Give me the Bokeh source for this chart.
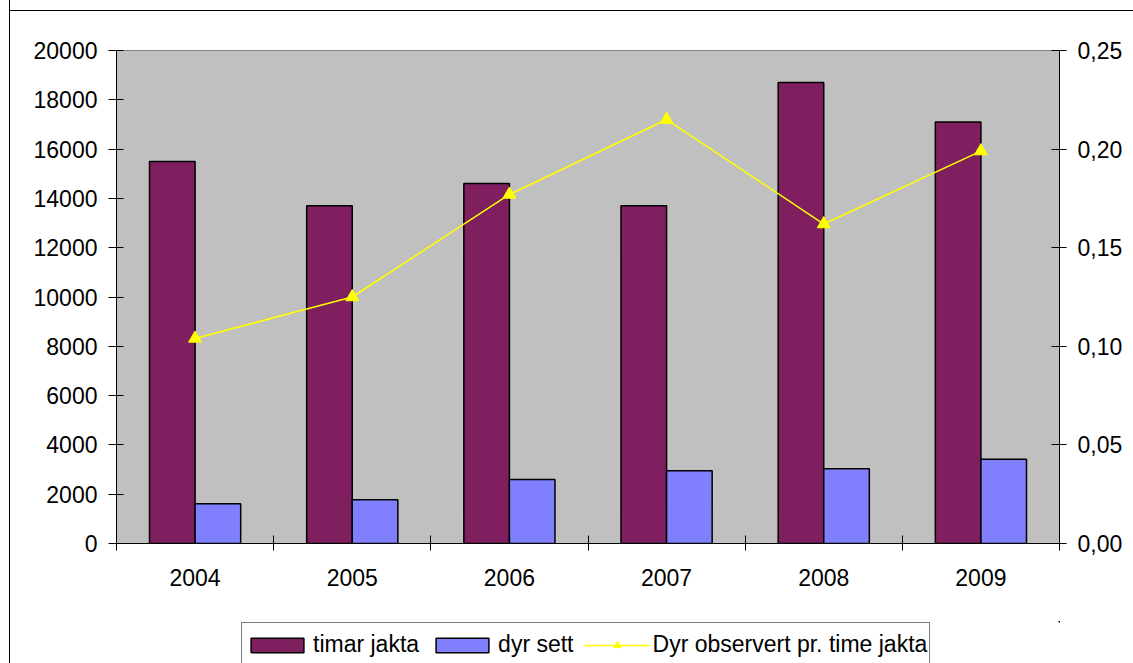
import numpy as np
from bokeh.plotting import figure
from bokeh.layouts import column
from bokeh.models import (Range1d, LinearAxis, FixedTicker, CustomJSTickFormatter,
                          Legend, LegendItem, ColumnDataSource, InlineStyleSheet)
from bokeh.embed import file_html
from bokeh.resources import INLINE

# ---- data ----
years = ["2004", "2005", "2006", "2007", "2008", "2009"]
timar_jakta = [15500, 13700, 14600, 13700, 18700, 17100]
dyr_sett = [1610, 1770, 2600, 2950, 3030, 3420]
dyr_per_time = [0.104, 0.125, 0.177, 0.215, 0.162, 0.199]
left_ticks = [0, 2000, 4000, 6000, 8000, 10000, 12000, 14000, 16000, 18000, 20000]
right_ticks = [0.0, 0.05, 0.10, 0.15, 0.20, 0.25]

FONT = "Liberation Sans"
FS = "23px"

idx = np.arange(len(years))
x_center = idx + 0.5
bar_w = 0.29
src = ColumnDataSource(dict(
    x=x_center,
    x_a=x_center - bar_w / 2,
    x_b=x_center + bar_w / 2,
    timar=timar_jakta,
    dyr=dyr_sett,
    ratio=dyr_per_time,
))

main_border = InlineStyleSheet(css="""
:host::after {
  content: ""; position: absolute;
  left: 9px; top: 10px; width: 1300px; height: 1000px;
  border: 1px solid black; box-sizing: border-box; pointer-events: none;
}
""")
leg_border = InlineStyleSheet(css="""
:host::after {
  content: ""; position: absolute;
  left: 9px; top: -700px; width: 0px; height: 2000px;
  border-left: 1px solid black; pointer-events: none;
}
""")

p = figure(width=1133, height=621, output_backend="svg", toolbar_location=None,
           x_range=Range1d(0, len(years)), y_range=Range1d(0, 20000),
           min_border_left=116, min_border_right=74, min_border_top=50, min_border_bottom=78,
           background_fill_color="#C0C0C0", border_fill_color="white",
           outline_line_color="#808080", outline_line_width=1,
           stylesheets=[main_border])
p.extra_y_ranges = {"ratio": Range1d(0, 0.25)}
p.xgrid.visible = False
p.ygrid.visible = False

# x axis: labels at category centres, tick marks at category borders
xa = p.xaxis[0]
xa.ticker = FixedTicker(ticks=list(x_center), minor_ticks=list(range(len(years) + 1)))
xa.formatter = CustomJSTickFormatter(args=dict(years=years),
                                     code="return years[Math.round(tick - 0.5)]")
xa.major_tick_line_color = None
xa.major_tick_in = 0
xa.major_tick_out = 0
xa.minor_tick_in = 8
xa.minor_tick_out = 7
xa.minor_tick_line_color = "black"
xa.axis_line_color = "black"
xa.major_label_standoff = 18
xa.major_label_text_font = FONT
xa.major_label_text_font_size = FS
xa.major_label_text_color = "black"

ya = p.yaxis[0]
ya.ticker = FixedTicker(ticks=left_ticks)
ya.major_tick_in = 7
ya.major_tick_out = 8
ya.minor_tick_line_color = None
ya.axis_line_color = "black"
ya.major_tick_line_color = "black"
ya.major_label_standoff = 11
ya.major_label_text_font = FONT
ya.major_label_text_font_size = FS
ya.major_label_text_color = "black"

yr = LinearAxis(y_range_name="ratio", ticker=FixedTicker(ticks=right_ticks),
                formatter=CustomJSTickFormatter(code="return tick.toFixed(2).replace('.', ',')"))
yr.major_tick_in = 8
yr.major_tick_out = 7
yr.minor_tick_line_color = None
yr.axis_line_color = "black"
yr.major_tick_line_color = "black"
yr.major_label_standoff = 11
yr.major_label_text_font = FONT
yr.major_label_text_font_size = FS
yr.major_label_text_color = "black"
p.add_layout(yr, "right")

bar1_style = dict(fill_color="#7F1F5F", line_color="black", line_width=1.5)
bar2_style = dict(fill_color="#8080FF", line_color="black", line_width=1.5)
line_style = dict(line_color="#FFFF00", line_width=1.5)
mark_style = dict(marker="triangle", size=13, fill_color="#FFFF00", line_color="#FFFF00")

p.vbar(x="x_a", top="timar", bottom=0, width=bar_w, source=src, **bar1_style)
p.vbar(x="x_b", top="dyr", bottom=0, width=bar_w, source=src, **bar2_style)
p.line(x="x", y="ratio", source=src, y_range_name="ratio", **line_style)
p.scatter(x="x", y="ratio", source=src, y_range_name="ratio", **mark_style)

# ---- legend strip (the reference cuts the legend box at its bottom) ----
lg = figure(width=1133, height=42, output_backend="svg", toolbar_location=None,
            x_range=Range1d(-20, -19), y_range=Range1d(-20, -19),
            x_axis_location=None, y_axis_location=None,
            min_border_left=0, min_border_right=0, min_border_top=0, min_border_bottom=0,
            background_fill_color="white", border_fill_color="white",
            outline_line_color=None, stylesheets=[leg_border])
lg.xgrid.visible = False
lg.ygrid.visible = False
l1 = lg.vbar(x="x_a", top="timar", bottom=0, width=bar_w, source=src, **bar1_style)
l2 = lg.vbar(x="x_b", top="dyr", bottom=0, width=bar_w, source=src, **bar2_style)
l3 = lg.line(x="x", y="ratio", source=src, **line_style)
l4 = lg.scatter(x="x", y="ratio", source=src, **mark_style)

# the column aligns this strip's frame with the chart frame (starts at x=116)
legend = Legend(items=[
    LegendItem(label="timar jakta", renderers=[l1]),
    LegendItem(label="dyr sett", renderers=[l2]),
    LegendItem(label="Dyr observert pr. time jakta", renderers=[l3, l4]),
], orientation="horizontal", location=(125, -4),
    border_line_color="black", border_line_width=1,
    background_fill_color="white", background_fill_alpha=1,
    label_text_font=FONT, label_text_font_size=FS, label_text_color="black",
    glyph_width=66, glyph_height=18, label_standoff=3, spacing=10,
    padding=2, margin=0, label_height=39)
lg.add_layout(legend)

layout = column(p, lg, spacing=0)
open("out.html", "w").write(file_html(layout, INLINE))
